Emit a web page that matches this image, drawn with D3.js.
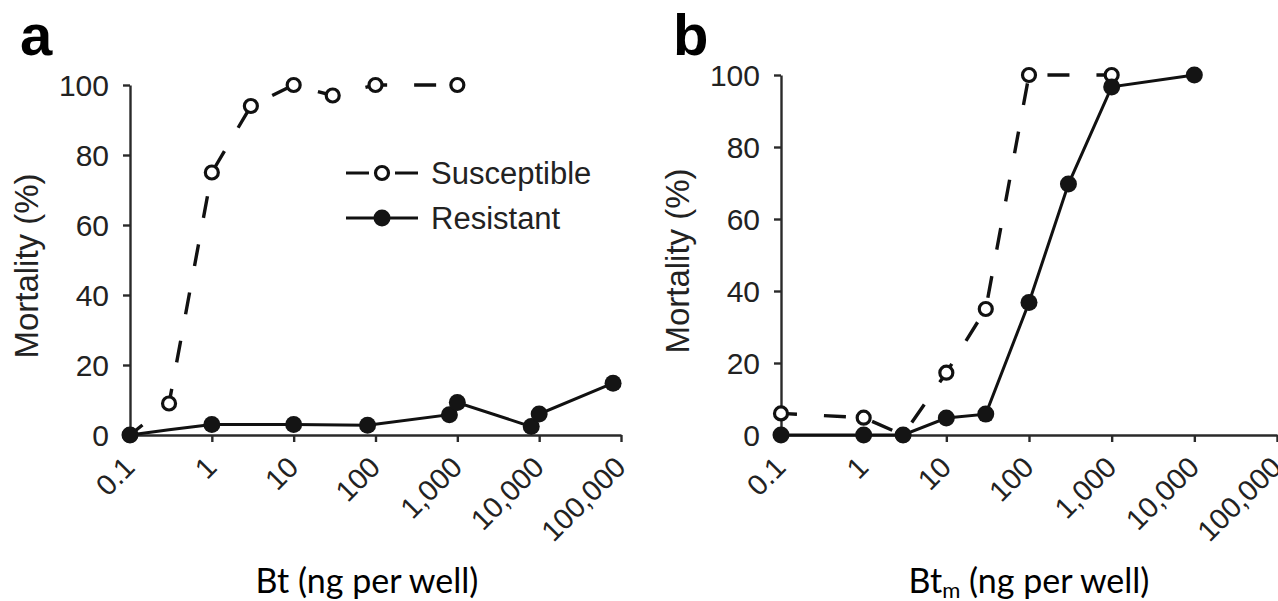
<!DOCTYPE html>
<html>
<head>
<meta charset="utf-8">
<script src="https://cdn.jsdelivr.net/npm/d3@7"></script>
<style>
    body { margin: 0; background: #fff; }
    #chart { width: 1278px; height: 601px; }
    .tick-label { font-family: "Liberation Sans", Arial, sans-serif; fill: #222; }
</style>
</head>
<body>
<div id="chart"></div>
<script>
// dose ticks (ng per well)
const xTickValues = [0.1, 1, 10, 100, 1000, 10000, 100000];
const xTickLabels = ["0.1", "1", "10", "100", "1,000", "10,000", "100,000"];
const yTickValues = [0, 20, 40, 60, 80, 100];

// panel a : Bt
const suscDoseA = [0.1, 0.3, 1, 3, 10, 30, 100, 1000];
const suscMortA = [0, 9, 75, 94, 100, 97, 100, 100];
const resDoseA = [0.1, 0.3, 1, 10, 80, 800, 1000, 8000, 10000, 80000];
const resMortA = [0, 1.5, 3, 3, 2.8, 5.8, 9.3, 2.4, 6, 14.8];
const resMarkA = [true, false, true, true, true, true, true, true, true, true];

// panel b : Btm
const suscDoseB = [0.1, 1, 3, 10, 30, 100, 1000];
const suscMortB = [6, 4.8, 0, 17.3, 35, 100, 100];
const resDoseB = [0.1, 1, 3, 10, 30, 100, 300, 1000, 10000];
const resMortB = [0, 0, 0, 4.7, 5.8, 36.8, 69.7, 96.7, 100];

const legendNames = ["Susceptible", "Resistant"];

const FONT = "Liberation Sans, Arial, sans-serif";

function zip(xs, ys, marks) {
    return xs.map(function(d, i) {
        return { dose: d, mort: ys[i], mark: marks ? marks[i] : true };
    });
}

class MortalityChart {

    constructor(svg, opts) {
        this.svg = svg;
        this.opts = opts;
        this.initVis();
    }

    initVis() {
        let vis = this;
        let o = vis.opts;

        vis.g = vis.svg.append("g");

        vis.x = d3.scaleLog()
            .domain([0.1, 100000])
            .range(o.xRange);

        vis.y = d3.scaleLinear()
            .domain([0, 100])
            .range(o.yRange);

        // x axis
        vis.xAxis = d3.axisBottom(vis.x)
            .tickValues(xTickValues)
            .tickFormat(function(d, i) { return xTickLabels[i]; })
            .tickSize(7)
            .tickSizeOuter(0);

        let gx = vis.g.append("g")
            .attr("class", "x-axis")
            .attr("transform", "translate(0," + o.yRange[0] + ")")
            .call(vis.xAxis);

        gx.selectAll("text")
            .attr("class", "tick-label")
            .attr("font-family", FONT)
            .attr("x", 0).attr("y", 0).attr("dy", 0)
            .attr("text-anchor", "end")
            .attr("transform", "translate(6,34) rotate(-45)")
            .attr("font-size", "29px");

        // y axis
        vis.yAxis = d3.axisLeft(vis.y)
            .tickValues(yTickValues)
            .tickSize(7)
            .tickPadding(14)
            .tickSizeOuter(0);

        let gy = vis.g.append("g")
            .attr("class", "y-axis")
            .attr("transform", "translate(" + o.xRange[0] + ",0)")
            .call(vis.yAxis);

        gy.selectAll("text")
            .attr("class", "tick-label")
            .attr("font-family", FONT)
            .attr("font-size", "30px")
            .attr("dy", "0.36em");

        vis.g.selectAll(".domain, .tick line")
            .attr("stroke", "#2a2a2a")
            .attr("stroke-width", 2.4);

        vis.g.append("text")
            .attr("class", "tick-label")
            .attr("font-family", FONT)
            .attr("transform", "translate(" + o.yLabelX + "," + ((o.yRange[0] + o.yRange[1]) / 2 + 6) + ") rotate(-90)")
            .attr("text-anchor", "middle")
            .attr("font-size", "33px")
            .text("Mortality (%)");

        // panel letter
        vis.g.append("text")
            .attr("x", o.letterX)
            .attr("y", 55)
            .attr("font-family", FONT)
            .attr("font-weight", "bold")
            .attr("font-size", "58px")
            .attr("fill", "#000")
            .text(o.letter);

        // x title
        let title = vis.g.append("text")
            .attr("x", o.titleX)
            .attr("y", 593)
            .attr("text-anchor", "middle")
            .attr("font-family", "Lato, Open Sans, sans-serif")
            .attr("font-size", "34px")
            .attr("fill", "#000");
        title.append("tspan").text("Bt");
        if (o.sub) {
            title.append("tspan").attr("font-size", "22px").attr("dy", 5).text(o.sub);
            title.append("tspan").attr("dy", -5).text(" (ng per well)");
        } else {
            title.append("tspan").text(" (ng per well)");
        }

        vis.updateVis();
    }

    updateVis() {
        let vis = this;
        let o = vis.opts;

        let line = d3.line()
            .x(function(d) { return vis.x(d.dose); })
            .y(function(d) { return vis.y(d.mort); });

        // susceptible: dashed with open circles
        vis.g.append("path")
            .datum(o.susc)
            .attr("d", line)
            .attr("fill", "none")
            .attr("stroke", "#111")
            .attr("stroke-width", 3.4)
            .attr("stroke-dasharray", "22,27")
            .attr("stroke-dashoffset", 6);

        vis.g.selectAll(".susc-dot")
            .data(o.susc)
            .enter()
            .append("circle")
            .attr("class", "susc-dot")
            .attr("cx", function(d) { return vis.x(d.dose); })
            .attr("cy", function(d) { return vis.y(d.mort); })
            .attr("r", 6.5)
            .attr("fill", "#fff")
            .attr("stroke", "#111")
            .attr("stroke-width", 3.2);

        // resistant: solid with filled circles
        vis.g.append("path")
            .datum(o.res)
            .attr("d", line)
            .attr("fill", "none")
            .attr("stroke", "#111")
            .attr("stroke-width", 3);

        vis.g.selectAll(".res-dot")
            .data(o.res.filter(function(d) { return d.mark; }))
            .enter()
            .append("circle")
            .attr("class", "res-dot")
            .attr("cx", function(d) { return vis.x(d.dose); })
            .attr("cy", function(d) { return vis.y(d.mort); })
            .attr("r", 8.5)
            .attr("fill", "#141414");

        if (o.legend) vis.drawLegend();
    }

    drawLegend() {
        let vis = this;
        let lg = vis.g.append("g").attr("transform", "translate(346,173)");

        legendNames.forEach(function(name, i) {
            let row = lg.append("g").attr("transform", "translate(0," + (i * 45) + ")");
            row.append("line")
                .attr("x1", 0).attr("x2", 72)
                .attr("stroke", "#111")
                .attr("stroke-width", 3.2)
                .attr("stroke-dasharray", i === 0 ? "23,26,23" : null);
            row.append("circle")
                .attr("cx", 36)
                .attr("r", i === 0 ? 6.5 : 8.5)
                .attr("fill", i === 0 ? "#fff" : "#141414")
                .attr("stroke", i === 0 ? "#111" : null)
                .attr("stroke-width", 3.2);
            row.append("text")
                .attr("class", "tick-label")
                .attr("font-family", FONT)
                .attr("x", 85)
                .attr("dy", "0.36em")
                .attr("font-size", "31px")
                .text(name);
        });
    }
}

let svg = d3.select("#chart").append("svg")
    .attr("width", 1278)
    .attr("height", 601)
    .style("background", "#fff");

new MortalityChart(svg, {
    xRange: [130, 621], yRange: [435, 85],
    yLabelX: 38, letter: "a", letterX: 20, titleX: 367,
    susc: zip(suscDoseA, suscMortA),
    res: zip(resDoseA, resMortA, resMarkA),
    legend: true
});

new MortalityChart(svg, {
    xRange: [781, 1277], yRange: [435, 75],
    yLabelX: 689, letter: "b", letterX: 673, titleX: 1029, sub: "m",
    susc: zip(suscDoseB, suscMortB),
    res: zip(resDoseB, resMortB),
    legend: false
});
</script>
</body>
</html>
